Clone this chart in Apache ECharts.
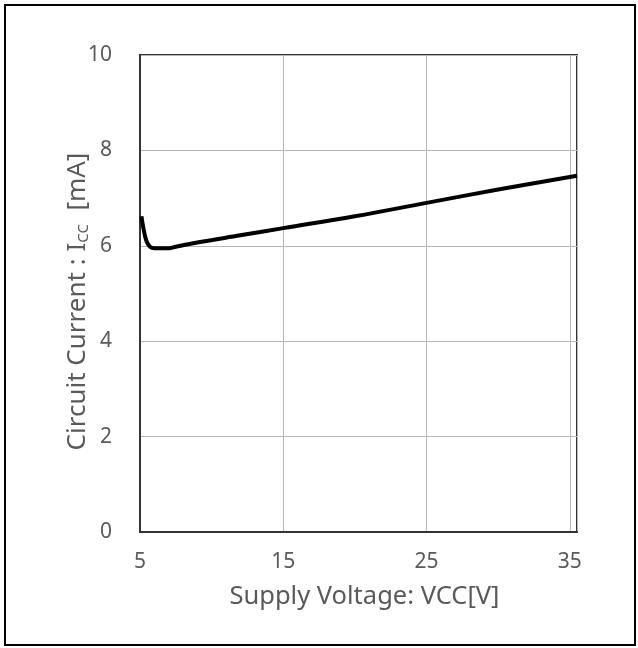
<!DOCTYPE html>
<html>
<head>
<meta charset="utf-8">
<script src="https://cdn.jsdelivr.net/npm/echarts@6/dist/echarts.min.js"></script>
<style>
  html, body { margin: 0; padding: 0; background: #fff; }
  #frame { position: absolute; left: 4px; top: 4px; width: 628px; height: 638px; border: 2px solid #000; }
  #chart { position: absolute; left: 0; top: 0; width: 638px; height: 648px; }
</style>
</head>
<body>
<div id="frame"></div>
<div id="chart"></div>
<script>
  // supply voltage [V] vs circuit current [mA]
  var vcc = [5.1, 5.25, 5.45, 5.7, 6.0, 6.5, 7.0, 7.5, 8.0, 9.0, 12, 15, 20, 25, 30, 35.5];
  var icc = [6.62, 6.35, 6.1, 5.98, 5.95, 5.95, 5.95, 5.98, 6.01, 6.07, 6.22, 6.37, 6.62, 6.9, 7.18, 7.47];
  var xTicks = [5, 15, 25, 35];
  var yTicks = [0, 2, 4, 6, 8, 10];

  var chart = echarts.init(document.getElementById('chart'));
  var txt = '#5a5a5a';
  var font = 'Noto Sans';

  var option = {
    animation: false,
    grid: {
      left: 140, right: 61, top: 55, bottom: 116,
      show: true, borderColor: '#333', borderWidth: 2
    },
    xAxis: {
      type: 'value',
      min: 5, max: 35.5, interval: 10,
      name: 'Supply Voltage: VCC[V]',
      nameLocation: 'middle',
      nameGap: 52,
      nameMoveOverlap: false,
      nameTextStyle: { color: txt, fontSize: 25.5, fontFamily: font, padding: [0, 0, 0, 12] },
      axisLine: { show: true, lineStyle: { color: '#333', width: 2 } },
      axisTick: { show: false },
      axisLabel: {
        color: txt, fontSize: 21, fontFamily: font, margin: 20,
        showMaxLabel: false,
        formatter: function (v) { return xTicks.indexOf(v) >= 0 ? String(v) : ''; }
      },
      splitLine: { show: true, lineStyle: { color: '#b5b5b5', width: 1 } }
    },
    yAxis: {
      type: 'value',
      min: 0, max: 10, interval: 2,
      name: 'Circuit Current : I{sub|CC}  [mA]',
      nameLocation: 'middle',
      nameGap: 49,
      nameMoveOverlap: false,
      nameTextStyle: {
        color: txt, fontSize: 26, fontFamily: font, lineHeight: 27, padding: [0, 16, 0, 0],
        rich: { sub: { color: txt, fontSize: 15, fontFamily: font, lineHeight: 15, verticalAlign: 'bottom', padding: [12, 0, 0, 0] } }
      },
      axisLine: { show: true, lineStyle: { color: '#333', width: 2 } },
      axisTick: { show: false },
      axisLabel: {
        color: txt, fontSize: 21, fontFamily: font, margin: 28,
        formatter: function (v) { return yTicks.indexOf(v) >= 0 ? String(v) : ''; }
      },
      splitLine: { show: true, lineStyle: { color: '#b5b5b5', width: 1 } }
    },
    series: [{
      type: 'line',
      data: vcc.map(function (v, i) { return [v, icc[i]]; }),
      smooth: 0.4,
      showSymbol: false,
      lineStyle: { color: '#000', width: 4 }
    }]
  };
  chart.setOption(option);
</script>
</body>
</html>
